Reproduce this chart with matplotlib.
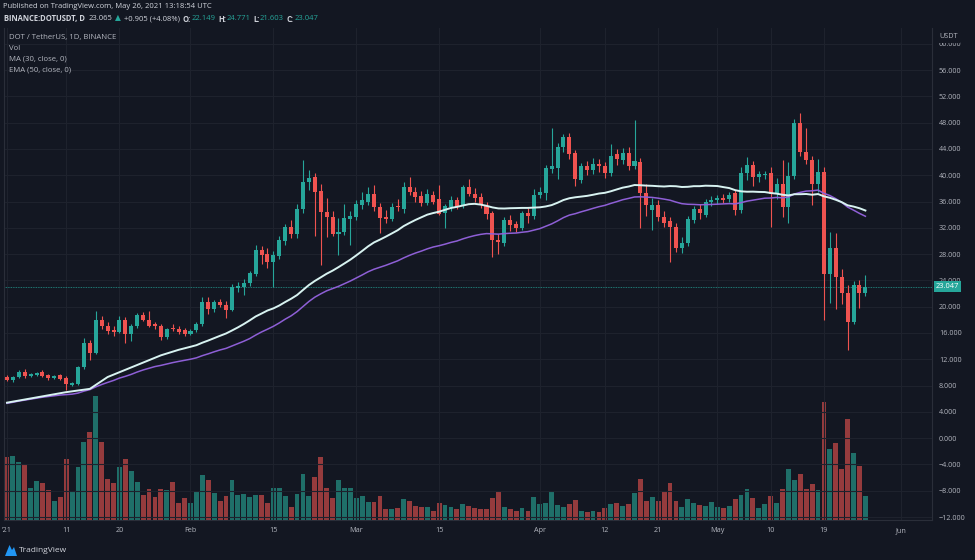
import matplotlib.pyplot as plt
import numpy as np
from matplotlib.patches import Polygon

# DOT / USDT daily candles, Jan 1 - May 26 2021
opens = [9.35, 8.85, 9.3, 10.1, 9.5, 9.6, 10.0, 9.55, 9.15, 9.55,
         9.2, 8.1, 8.3, 10.8, 14.5, 13.0, 18.0, 17.1, 16.4, 16.2,
         18.0, 15.9, 17.1, 18.8, 18.0, 17.3, 17.1, 15.4, 16.8, 16.6,
         16.5, 15.9, 16.4, 17.3, 20.7, 19.7, 20.7, 20.3, 19.5, 22.9,
         23.0, 23.6, 25.0, 28.6, 28.0, 26.8, 27.7, 30.0, 32.2, 31.1,
         34.8, 39.0, 39.8, 37.6, 34.4, 33.7, 31.1, 31.3, 33.4, 33.7,
         35.4, 36.0, 37.2, 35.2, 33.6, 33.4, 35.3, 34.9, 38.2, 37.5,
         36.9, 35.8, 37.0, 36.4, 34.3, 35.2, 36.2, 35.5, 38.2, 37.2,
         36.7, 35.3, 34.3, 30.2, 29.7, 33.2, 32.6, 32.0, 34.3, 33.8,
         37.0, 37.3, 41.0, 41.1, 44.3, 45.8, 43.4, 39.3, 41.4, 40.8,
         41.7, 41.4, 40.4, 43.2, 42.3, 43.4, 41.4, 42.0, 37.3, 34.7,
         35.5, 33.7, 33.1, 32.2, 29.0, 29.7, 33.2, 34.9, 34.0, 36.0,
         36.3, 36.6, 36.4, 37.3, 34.7, 40.4, 41.6, 39.8, 40.0, 40.4,
         37.2, 38.7, 35.2, 39.9, 48.0, 43.6, 42.3, 38.7, 40.5, 25.0,
         28.9, 24.5, 22.1, 17.7, 23.3, 22.149]
highs = [9.6, 9.5, 10.4, 10.5, 9.9, 10.0, 10.4, 9.8, 9.6, 9.8,
         9.4, 8.6, 11.0, 15.2, 14.9, 19.4, 18.6, 17.6, 17.0, 18.6,
         18.5, 17.4, 19.0, 19.2, 19.3, 17.6, 17.4, 16.8, 17.4, 17.0,
         16.8, 16.6, 17.6, 21.5, 21.4, 21.0, 21.2, 20.9, 23.4, 23.8,
         24.2, 25.5, 29.4, 29.3, 28.9, 28.4, 30.8, 32.6, 33.2, 35.6,
         42.3, 40.8, 40.3, 38.6, 36.5, 34.6, 33.5, 35.6, 34.6, 36.2,
         37.4, 38.2, 38.5, 35.8, 34.7, 35.8, 36.4, 38.9, 39.8, 38.2,
         37.6, 37.9, 37.6, 38.5, 35.6, 36.8, 36.7, 38.5, 39.4, 38.0,
         37.3, 35.9, 34.6, 31.0, 33.6, 33.9, 33.0, 34.6, 35.0, 37.9,
         38.2, 41.6, 47.2, 44.9, 46.3, 46.5, 43.9, 41.9, 42.2, 42.6,
         42.5, 42.0, 44.7, 44.0, 44.1, 44.3, 48.4, 42.6, 38.6, 36.6,
         36.2, 34.5, 33.7, 32.7, 30.6, 33.8, 35.3, 35.6, 36.4, 36.8,
         37.0, 37.2, 37.5, 37.8, 41.2, 42.7, 42.2, 40.6, 40.7, 41.2,
         39.6, 42.3, 42.0, 48.5, 49.5, 47.2, 42.9, 42.5, 41.2, 31.4,
         31.2, 25.7, 23.3, 23.9, 24.0, 24.771]
lows = [8.7, 8.6, 9.1, 9.2, 9.3, 9.4, 9.3, 8.9, 9.0, 8.8,
        7.4, 7.9, 8.1, 10.5, 11.9, 12.8, 16.6, 15.8, 15.6, 16.0,
        14.5, 14.8, 16.8, 17.8, 16.9, 16.6, 14.9, 15.1, 16.3, 15.8,
        15.5, 15.7, 16.1, 17.0, 18.9, 19.2, 19.9, 18.3, 19.3, 22.2,
        21.8, 23.2, 24.6, 26.5, 25.9, 23.0, 27.2, 29.4, 30.5, 30.4,
        34.2, 37.8, 30.7, 26.4, 30.6, 30.8, 27.9, 30.9, 29.4, 33.2,
        34.9, 35.5, 34.6, 31.2, 32.8, 33.0, 34.6, 34.3, 37.0, 35.9,
        35.3, 35.4, 35.6, 33.9, 31.9, 34.6, 34.8, 35.0, 36.9, 36.0,
        35.0, 33.4, 27.6, 28.0, 29.3, 31.5, 31.4, 31.6, 32.8, 33.3,
        36.5, 36.2, 40.3, 39.5, 43.5, 42.4, 38.4, 38.8, 40.0, 40.2,
        40.5, 39.6, 39.9, 41.6, 41.7, 40.8, 40.9, 32.0, 33.8, 31.6,
        33.1, 32.1, 26.8, 28.3, 28.2, 29.3, 32.7, 33.3, 33.6, 35.3,
        35.7, 35.8, 36.0, 34.0, 34.2, 39.2, 38.3, 39.0, 39.4, 32.2,
        36.4, 33.7, 32.8, 39.4, 42.9, 41.7, 35.5, 37.5, 18.0, 20.5,
        19.6, 20.4, 13.4, 17.3, 19.8, 21.603]
closes = [8.85, 9.35, 10.1, 9.4, 9.7, 9.85, 9.5, 9.1, 9.4, 9.0,
          8.2, 8.4, 10.8, 14.5, 13.0, 18.0, 17.0, 16.3, 16.1, 18.0,
          15.9, 17.1, 18.8, 18.0, 17.1, 17.1, 15.4, 16.6, 16.6, 16.1,
          15.8, 16.3, 17.3, 20.7, 19.7, 20.7, 20.3, 19.5, 23.0, 23.1,
          23.6, 25.1, 28.6, 27.9, 26.8, 27.8, 30.2, 32.2, 31.0, 34.9,
          39.0, 39.6, 37.5, 34.4, 33.7, 31.1, 31.4, 33.5, 33.8, 35.6,
          36.2, 37.2, 35.2, 33.5, 33.4, 35.2, 35.1, 38.2, 37.5, 36.7,
          35.8, 37.1, 36.0, 34.1, 35.3, 36.3, 35.2, 38.2, 37.2, 36.5,
          35.5, 34.1, 30.2, 29.8, 33.2, 32.5, 32.0, 34.3, 33.8, 37.0,
          37.5, 41.1, 41.4, 44.3, 45.8, 43.3, 39.5, 41.4, 40.8, 41.7,
          41.4, 40.4, 43.0, 42.5, 43.4, 41.4, 42.1, 37.3, 35.5, 35.5,
          33.7, 32.8, 32.2, 29.0, 29.7, 33.4, 34.9, 34.3, 36.0, 36.3,
          36.6, 36.3, 37.0, 34.7, 40.4, 41.6, 39.8, 40.2, 40.2, 37.2,
          38.7, 35.2, 39.9, 48.0, 43.6, 42.3, 38.7, 40.5, 25.0, 28.9,
          24.5, 22.1, 17.7, 23.3, 22.1, 23.047]
volume = [63, 64, 58, 55, 32, 39, 37, 30, 19, 23,
          61, 28, 53, 78, 88, 124, 78, 41, 37, 53,
          61, 49, 38, 25, 31, 23, 31, 30, 38, 17,
          22, 17, 28, 45, 40, 27, 19, 24, 40, 25,
          26, 23, 25, 25, 17, 32, 32, 24, 13, 26,
          46, 24, 43, 63, 32, 22, 40, 32, 32, 22,
          24, 18, 18, 24, 11, 11, 12, 21, 19, 14,
          13, 13, 9, 17, 15, 13, 11, 16, 14, 12,
          11, 11, 22, 28, 13, 11, 9, 12, 9, 23,
          16, 17, 29, 15, 13, 16, 20, 9, 8, 9,
          8, 12, 16, 17, 14, 16, 27, 41, 19, 23,
          19, 28, 37, 19, 13, 21, 17, 15, 14, 18,
          13, 12, 14, 21, 25, 31, 22, 12, 16, 24,
          17, 31, 51, 40, 46, 31, 36, 30, 118, 71,
          77, 51, 101, 67, 54, 24]

# MA(30) values before a full 30-day window exists
ma_head_idx = [0, 10, 14, 17, 26]
ma_head_val = [5.4, 7.0, 7.5, 9.3, 12.6]
ema_start = 5.3  # EMA(50) value at Jan 1

tick_pos = [0, 10, 19, 31, 45, 59, 73, 90, 101, 110, 120, 129, 138, 151]
tick_lab = ["'21", '11', '20', 'Feb', '15', 'Mar', '15', 'Apr', '12', '21', 'May', '10', '19', 'Jun']
price_ticks = list(range(-12, 61, 4))
last_price = 23.047

bg = '#131722'
up = '#26a69a'
dn = '#ef5350'
up_vol = '#1f6f69'
dn_vol = '#953b3d'
txt = '#b2b5be'
head = '#d1d4dc'
gridc = '#1e222d'
W, H = 975, 560

plt.rcParams['font.family'] = ['Open Sans', 'DejaVu Sans']

o = np.array(opens)
h = np.array(highs)
l = np.array(lows)
c = np.array(closes)
idx = np.arange(len(c))
rising = c >= o

# indicators
ma = np.full(len(c), np.nan)
for i in range(29, len(c)):
    ma[i] = c[i - 29:i + 1].mean()
ma_x = list(ma_head_idx) + list(idx[29:])
ma_y = list(ma_head_val) + list(ma[29:])
ema = np.zeros(len(c))
ema[0] = ema_start
k = 2 / 51
for i in range(1, len(c)):
    ema[i] = ema[i - 1] + k * (c[i] - ema[i - 1])

fig = plt.figure(figsize=(W / 100, H / 100), dpi=100, facecolor=bg)
ax = fig.add_axes([4 / W, 40 / H, 928 / W, 492 / H])
axv = ax.twinx()
ax.set_zorder(axv.get_zorder() + 1)
ax.patch.set_visible(False)
axv.set_facecolor(bg)

# volume
vcol = [up_vol if r else dn_vol for r in rising]
axv.bar(idx, volume, width=0.82, color=vcol, linewidth=0)
axv.set_ylim(0, max(volume) / 0.252)
axv.set_yticks([])
for s in axv.spines.values():
    s.set_visible(False)

# grid
for p in price_ticks:
    ax.axhline(p, color=gridc, lw=0.8, zorder=0)
for t in tick_pos:
    ax.axvline(t, color=gridc, lw=0.8, zorder=0)

# candles
ccol = [up if r else dn for r in rising]
ax.vlines(idx, l, h, colors=ccol, lw=0.8, zorder=2)
body_lo = np.minimum(o, c)
body_h = np.maximum(np.abs(c - o), 0.12)
ax.bar(idx, body_h, bottom=body_lo, width=0.68, color=ccol, linewidth=0, zorder=3)

# moving averages
ax.plot(idx, ema, color='#8e5fd6', lw=1.1, zorder=4)
ax.plot(ma_x, ma_y, color='#d8f3f1', lw=1.4, zorder=5)

# last price line and label
ax.axhline(last_price, color=up, lw=0.6, ls=(0, (1, 1)), alpha=0.9, zorder=1)
ax.text(1.004, last_price, f'{last_price:.3f}', transform=ax.get_yaxis_transform(),
        ha='left', va='center', fontsize=5.4, color='white', clip_on=False, zorder=6,
        bbox=dict(boxstyle='square,pad=0.28', fc=up, ec='none'))

ax.set_xlim(-0.5, 156.25)
ax.set_ylim(-12.45, 62.4)
ax.yaxis.tick_right()
ax.set_yticks(price_ticks)
ax.set_yticklabels([f'{p:.3f}'.replace('-', '\u2212') for p in price_ticks])
ax.set_xticks(tick_pos)
ax.set_xticklabels(tick_lab)
ax.tick_params(axis='y', length=0, pad=5, labelsize=5.2, labelcolor=txt)
ax.tick_params(axis='x', length=0, pad=5, labelsize=5.2, labelcolor=txt)
for s in ax.spines.values():
    s.set_color('#2a2e39')
    s.set_linewidth(0.8)
ax.spines['top'].set_visible(False)

# header
fig.text(3 / W, 1 - 7 / H, 'Published on TradingView.com, May 26, 2021 13:18:54 UTC',
         fontsize=5.5, color=head, va='center')
parts = [('23.065', 'normal', head, 2.6),
         ('\u25b2', 'normal', up, 1.6),
         ('+0.905 (+4.08%)', 'normal', head, 2.2),
         ('O:', 'bold', head, 2.4), ('22.149', 'normal', up, 0.3),
         ('H:', 'bold', head, 2.0), ('24.771', 'normal', up, 0.3),
         ('L:', 'bold', head, 2.0), ('21.603', 'normal', up, 0.3),
         ('C:', 'bold', head, 2.0), ('23.047', 'normal', up, 0.3)]
prev = fig.text(4 / W, 1 - 19 / H, 'BINANCE:DOTUSDT, D', fontsize=5.5,
                fontweight='bold', color=head, va='center')
for s, wt, col, gap in parts:
    prev = ax.annotate(s, xy=(1, 0.5), xycoords=prev, xytext=(gap, 0),
                       textcoords='offset points', va='center', ha='left',
                       fontsize=5.5, fontweight=wt, color=col, annotation_clip=False)

# legend lines in the pane
for j, s in enumerate(['DOT / TetherUS, 1D, BINANCE', 'Vol', 'MA (30, close, 0)', 'EMA (50, close, 0)']):
    fig.text(9 / W, 1 - (37 + 11 * j) / H, s, fontsize=5.6, color=txt, va='center')

fig.text(949 / W, 1 - 37 / H, 'USDT', fontsize=5.2, color=txt, va='center', ha='center',
         bbox=dict(boxstyle='square,pad=0.3', fc=bg, ec='none'))

# footer logo
logo = Polygon([(5 / W, 1 - 556 / H), (9.5 / W, 1 - 545 / H), (12 / W, 1 - 550 / H),
                (14 / W, 1 - 547 / H), (17 / W, 1 - 556 / H)],
               closed=True, transform=fig.transFigure, fc='#2196f3', ec='none')
fig.patches.append(logo)
fig.text(19 / W, 1 - 550 / H, 'TradingView', fontsize=6.0, color=head, va='center')

fig.savefig('out.png', dpi=100, facecolor=bg)
